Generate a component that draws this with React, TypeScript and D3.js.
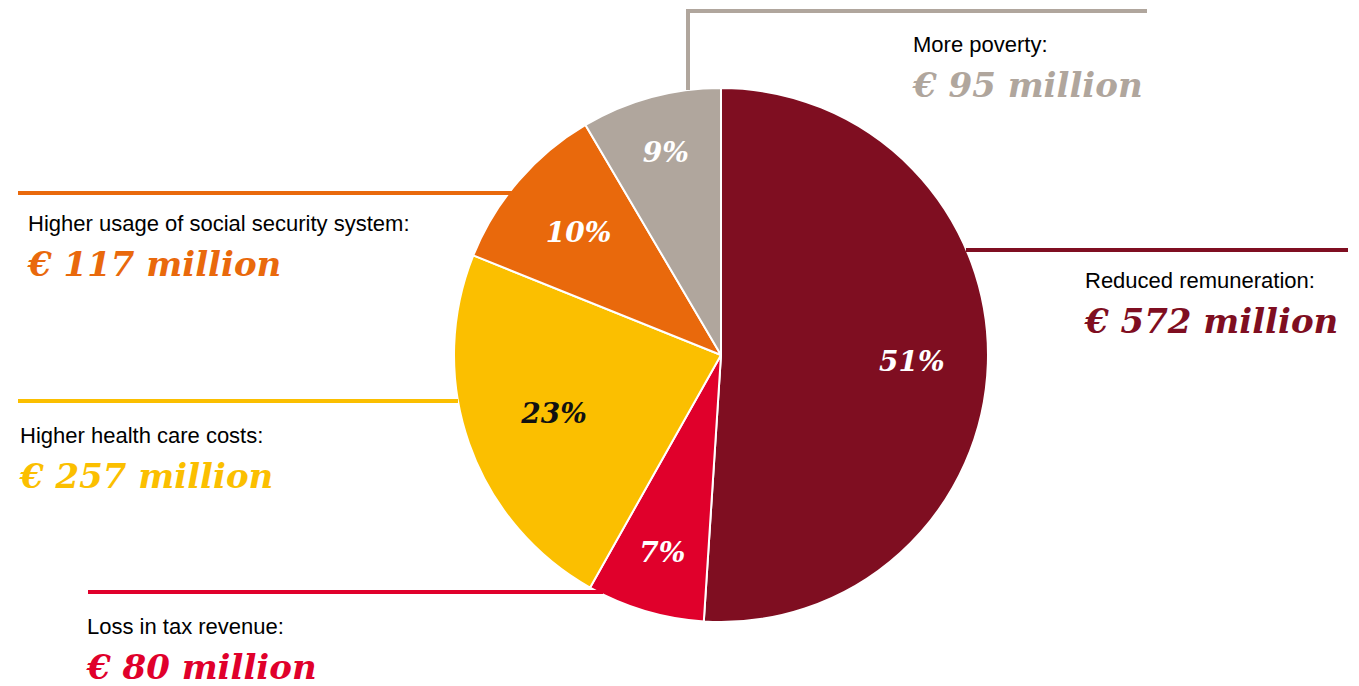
import React from "react";
import * as d3 from "d3";

const categories = [
  "Reduced remuneration:",
  "Loss in tax revenue:",
  "Higher health care costs:",
  "Higher usage of social security system:",
  "More poverty:",
];
const values = [572, 80, 257, 117, 95];
const valueLabels = ["€ 572 million", "€ 80 million", "€ 257 million", "€ 117 million", "€ 95 million"];
const percentLabels = ["51%", "7%", "23%", "10%", "9%"];

// styling
const colors = ["#7F0E21", "#E0002B", "#FBBF00", "#E9690C", "#B0A69D"];
const pctColors = ["#fff", "#fff", "#111", "#fff", "#fff"];
const labelRadius = [191, 206, 177, 188, 210];
// annotation layout: leader line points + text anchor
const leaders: [number, number][][] = [
  [[966, 250], [1348, 250]],
  [[88, 592], [603, 592]],
  [[18, 401], [458, 401]],
  [[18, 193], [548, 193]],
  [[688, 90], [688, 11], [1147, 11]],
];
const textPos: [number, number][] = [
  [1085, 288],
  [87, 634],
  [20, 443],
  [28, 231],
  [913, 52],
];

const W = 1359, H = 686;
const cx = 721, cy = 355, R = 267;

export default function App() {
  const pie = d3.pie<number>().sort(null).value((d) => d).startAngle(0).endAngle(2 * Math.PI);
  const arcs = pie(values);
  const arc = d3.arc<d3.PieArcDatum<number>>().innerRadius(0).outerRadius(R);
  const line = d3.line();
  return (
    <svg width={W} height={H} style={{ position: "absolute", left: 0, top: 0, background: "#fff" }}>
      <g transform={`translate(${cx},${cy})`}>
        {arcs.map((a, i) => (
          <path key={i} d={arc(a) || ""} fill={colors[i]} stroke="#fff" strokeWidth={2} strokeLinejoin="round" />
        ))}
      </g>
      {leaders.map((pts, i) => (
        <path key={i} d={line(pts) || ""} fill="none" stroke={colors[i]} strokeWidth={4} />
      ))}
      <g transform={`translate(${cx},${cy})`}>
        {arcs.map((a, i) => {
          const c = d3.arc<d3.PieArcDatum<number>>().innerRadius(labelRadius[i]).outerRadius(labelRadius[i]).centroid(a);
          return (
            <text key={i} x={c[0]} y={c[1]} dy="0.35em" textAnchor="middle" fill={pctColors[i]}
              fontFamily="'DejaVu Serif', serif" fontWeight="bold" fontStyle="italic" fontSize={28}>
              {percentLabels[i]}
            </text>
          );
        })}
      </g>
      {categories.map((c, i) => (
        <g key={i}>
          <text x={textPos[i][0]} y={textPos[i][1]} fontFamily="'Liberation Sans', Arial, sans-serif" fontSize={22} fill="#000">
            {c}
          </text>
          <text x={textPos[i][0]} y={textPos[i][1] + 45} fontFamily="'DejaVu Serif', serif" fontWeight="bold" fontStyle="italic" fontSize={34} fill={colors[i]}>
            {valueLabels[i]}
          </text>
        </g>
      ))}
    </svg>
  );
}
